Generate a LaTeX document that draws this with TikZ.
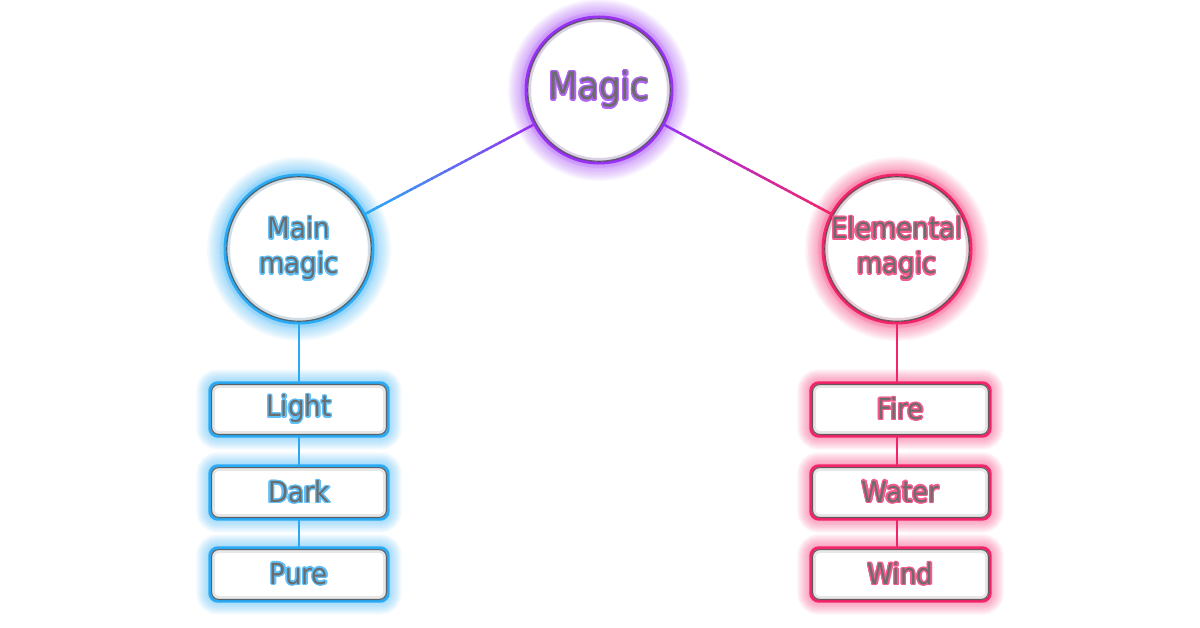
\documentclass[tikz,border=0pt]{standalone}
\usepackage{fontspec}
\setmainfont[FakeStretch=0.9]{DejaVu Sans}
\usepackage{xcolor}
\usepackage{tikz}
\usetikzlibrary{calc,backgrounds}
\usepackage[copies]{contour}
\contourlength{1.3pt}
\contournumber{16}
\definecolor{magicv}{HTML}{9832F2}
\definecolor{mainb}{HTML}{2AAAF4}
\definecolor{elemr}{HTML}{F2246A}
\definecolor{txt}{HTML}{6C6C6C}
\definecolor{rim}{HTML}{3A3A3A}
\tikzset{
  bubble/.style={circle, minimum size=148pt, inner sep=0pt, align=center, text=txt,
    font=\fontsize{29}{35}\selectfont},
  slot/.style={rectangle, minimum width=178pt, minimum height=53pt, inner sep=0pt,
    text=txt, font=\fontsize{29}{35}\selectfont},
  link/.style={line width=2.5pt},
}

\begin{document}
\begin{tikzpicture}[x=1pt,y=-1pt]
  \useasboundingbox (0,0) rectangle (1200,628);
  % circles
  \node[bubble, minimum size=146pt, font=\fontsize{38}{44}\selectfont] (magic) at (599,90) {\contour{magicv!75}{Magic}};
  \node[bubble] (main) at (299,249) {\contour{mainb!75}{Main}\\\contour{mainb!75}{magic}};
  \node[bubble] (elem) at (897,249) {\contour{elemr!75}{Elemental}\\\contour{elemr!75}{magic}};
  % boxes
  \node[slot] (light) at (299,409.5) {\contour{mainb!75}{Light}};
  \node[slot] (dark) at (299,492.5) {\contour{mainb!75}{Dark}};
  \node[slot] (pure) at (299,574.5) {\contour{mainb!75}{Pure}};
  \node[slot, minimum width=179pt] (fire) at (900.5,409.5) {\contour{elemr!75}{Fire}};
  \node[slot, minimum width=179pt] (water) at (900.5,492.5) {\contour{elemr!75}{Water}};
  \node[slot, minimum width=179pt] (wind) at (900.5,574.5) {\contour{elemr!75}{Wind}};

  \begin{pgfonlayer}{background}
    % links
    \foreach \a/\b in {main/light, light/dark, dark/pure}
      \draw[link, mainb] (\a.south -| main) -- (\b.north -| main);
    \foreach \a/\b in {elem/fire, fire/water, water/wind}
      \draw[link, elemr] (\a.south -| elem) -- (\b.north -| elem);
    \path (magic) -- (main) coordinate[pos=0] (ml) coordinate[pos=1] (mr);
    \path (magic) -- (elem) coordinate[pos=0] (el) coordinate[pos=1] (er);
    \foreach \i in {0,...,39} {
      \pgfmathsetmacro\p{100*\i/39}
      \pgfmathsetmacro\s{\i/40}
      \pgfmathsetmacro\e{(\i+1)/40+0.004}
      \draw[link, color=mainb!\p!magicv] ($(ml)!\s!(mr)$) -- ($(ml)!\e!(mr)$);
      \draw[link, color=elemr!\p!magicv] ($(el)!\s!(er)$) -- ($(el)!\e!(er)$);
    }
    % glow round the circles
    \foreach \n/\c/\r in {magic/magicv/73, main/mainb/74, elem/elemr/74} {
      \foreach \w in {3,6,...,36}
        \draw[\c, line width=\w pt, opacity=0.05] (\n.center) circle[radius=\r];
      \fill[white] (\n.center) circle[radius=\r];
      \draw[\c, opacity=0.12, line width=10pt] (\n.center) circle[radius=\r];
      \draw[\c, line width=3pt] (\n.center) circle[radius=\r];
      \draw[rim, line width=1.2pt, opacity=0.75] (\n.center) circle[radius=\r-1.8];
      \draw[rim, line width=3pt, opacity=0.12] (\n.center) circle[radius=\r-3.5];
    }
    % glow round the boxes
    \foreach \n/\c in {light/mainb, dark/mainb, pure/mainb, fire/elemr, water/elemr, wind/elemr} {
      \foreach \w in {3,6,...,27}
        \draw[\c, line width=\w pt, opacity=0.06, rounded corners=8pt] (\n.south west) rectangle (\n.north east);
      \fill[white, rounded corners=8pt] (\n.south west) rectangle (\n.north east);
      \draw[\c, line width=3pt, rounded corners=8pt] (\n.south west) rectangle (\n.north east);
      \draw[rim, line width=1.2pt, opacity=0.75, rounded corners=7pt]
        ([shift={(1.8,1.8)}]\n.north west) rectangle ([shift={(-1.8,-1.8)}]\n.south east);
      \draw[rim, line width=3pt, opacity=0.12, rounded corners=6pt]
        ([shift={(3.5,3.5)}]\n.north west) rectangle ([shift={(-3.5,-3.5)}]\n.south east);
    }
  \end{pgfonlayer}
\end{tikzpicture}
\end{document}
